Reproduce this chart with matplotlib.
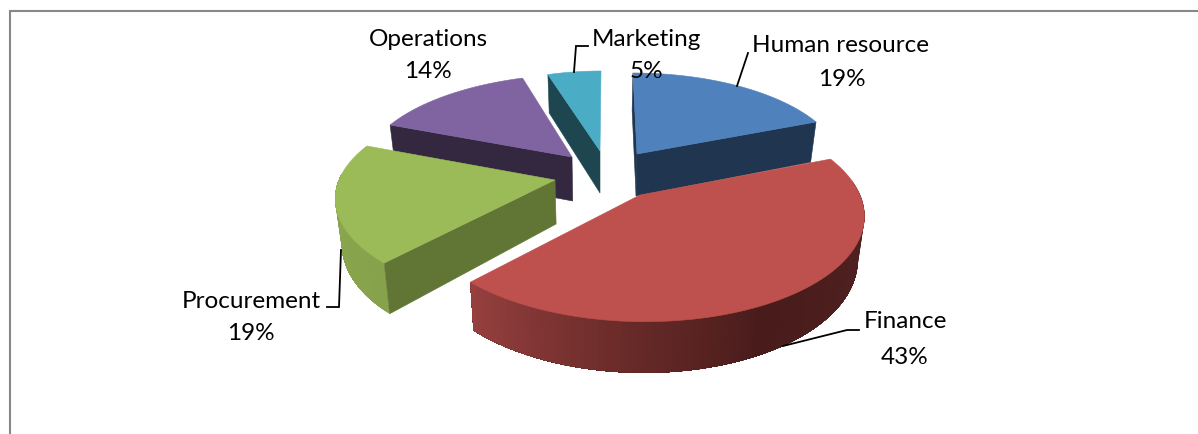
import numpy as np
import matplotlib
matplotlib.use("Agg")
import matplotlib.pyplot as plt
from matplotlib.colors import to_rgb

# ---- data ----
categories = ["Human resource", "Finance", "Procurement", "Operations", "Marketing"]
percent = [19, 43, 19, 14, 5]

# ---- style: slice placement of the exploded, perspective 3-D pie ----
W, H = 1198, 434
apex_x = [637, 640, 555, 572, 600]
apex_y = [154, 195, 180, 157, 151]
radius_x = [203, 220, 216, 206, 188]
radius_y = [90.9, 104, 98.6, 89.7, 88]
persp = [0.122, 0.179, 0.184, 0.085, 0.10]
shear = [0.05, 0.04, 0.0, -0.12, -0.0125]
depth = [42, 42, 44, 44, 42]
top_colors = ["#4F81BD", "#BE504D", "#9BBB59", "#8064A2", "#4BACC6"]
wall_colors = ["#20354F", "#000000", "#617535", "#332840", "#1E4650"]
draw_order = [4, 3, 0, 2, 1]
VANISH_X = 600
SHRINK = 0.975

label_x = [841, 905, 251, 428, 646]
label_y = [46, 322, 301, 39, 39]
pct_x = [842, 905, 251, 428, 646]
pct_y = [79, 357, 333, 72, 71]

leaders = [
    ([748, 737], [53, 86]),
    ([859, 847, 783], [330, 330, 346]),
    ([327, 339, 341], [307, 307, 250]),
    ([], []),
    ([588, 576, 574], [46, 46, 72]),
]

fig = plt.figure(figsize=(W / 100, H / 100), dpi=100)
ax = fig.add_axes([0, 0, 1, 1])
ax.set_xlim(0, W)
ax.set_ylim(H, 0)
ax.axis("off")

ax.plot([9.7, 9.7], [H, 10.7], color="#888888", lw=1.5, solid_capstyle="butt")
ax.plot([9, W], [10.7, 10.7], color="#888888", lw=1.5, solid_capstyle="butt")

edges = np.concatenate([[0], np.cumsum(percent)]) * 3.6


def rim(i, deg, r=1.0):
    t = np.radians(np.atleast_1d(deg))
    X, Y = r * np.sin(t), r * np.cos(t)
    s = 1 / (1 + persp[i] * Y)
    dx = radius_x[i] * X * s
    dy = -radius_y[i] * Y * s
    return apex_x[i] + dx + shear[i] * dy, apex_y[i] + dy, s


def lower(i, x, y, s):
    return VANISH_X + (x - VANISH_X) * SHRINK, y + depth[i] * s


def inner_wall(i, deg, color, z):
    x, y, s = rim(i, deg)
    x0, y0 = apex_x[i], apex_y[i]
    xa, ya = lower(i, x0, y0, 1.0)
    xb, yb = lower(i, x[0], y[0], s[0])
    ax.fill([x0, x[0], xb, xa], [y0, y[0], yb, ya], color=color, lw=0.4, zorder=z)


def outer_wall(i, t0, t1, stops, z):
    # painted as overlapping bands, each reaching the far end, so no seams show
    ts = np.linspace(t0, t1, 90)
    ps = np.linspace(0, 1, len(stops))
    rgb = np.array([to_rgb(c) for c in stops])
    for a in ts[:-1]:
        f = (a - t0) / (t1 - t0)
        col = [np.interp(f, ps, rgb[:, k]) for k in range(3)]
        band = ts[ts >= a]
        x, y, s = rim(i, band)
        xl, yl = lower(i, x, y, s)
        ax.fill(np.r_[x, xl[::-1]], np.r_[y, yl[::-1]], color=col, lw=0, zorder=z)


for z, i in enumerate(draw_order):
    base = 10 * (z + 1)
    t0, t1 = edges[i], edges[i + 1]
    name = categories[i]
    if name == "Finance":
        outer_wall(i, 82, t1, ["#4E201F", "#4E201F", "#481C1B", "#6E2D2B", "#984140"], base)
    elif name == "Procurement":
        outer_wall(i, t0, t0 + 50, ["#86A24B", "#8AA850"], base)
        inner_wall(i, t0, wall_colors[i], base + 1)
    elif name == "Human resource":
        inner_wall(i, t1, wall_colors[i], base)
        inner_wall(i, t0, wall_colors[i], base)
    else:
        inner_wall(i, t0, wall_colors[i], base)
    ts = np.linspace(t0, t1, 160)
    x, y, _ = rim(i, ts)
    ax.fill(np.r_[apex_x[i], x], np.r_[apex_y[i], y], color=top_colors[i],
            lw=0.4, zorder=base + 2)

for i, name in enumerate(categories):
    ax.text(label_x[i], label_y[i], name, ha="center", va="center", family="Lato",
            fontsize=17.5, color="black", zorder=200)
    ax.text(pct_x[i], pct_y[i], f"{percent[i]}%", ha="center", va="center", family="Lato",
            fontsize=17.5, color="black", zorder=200)
    if leaders[i][0]:
        ax.plot(leaders[i][0], leaders[i][1], color="black", lw=1.3, zorder=150,
                solid_joinstyle="miter")

fig.savefig("out.png", dpi=100)
